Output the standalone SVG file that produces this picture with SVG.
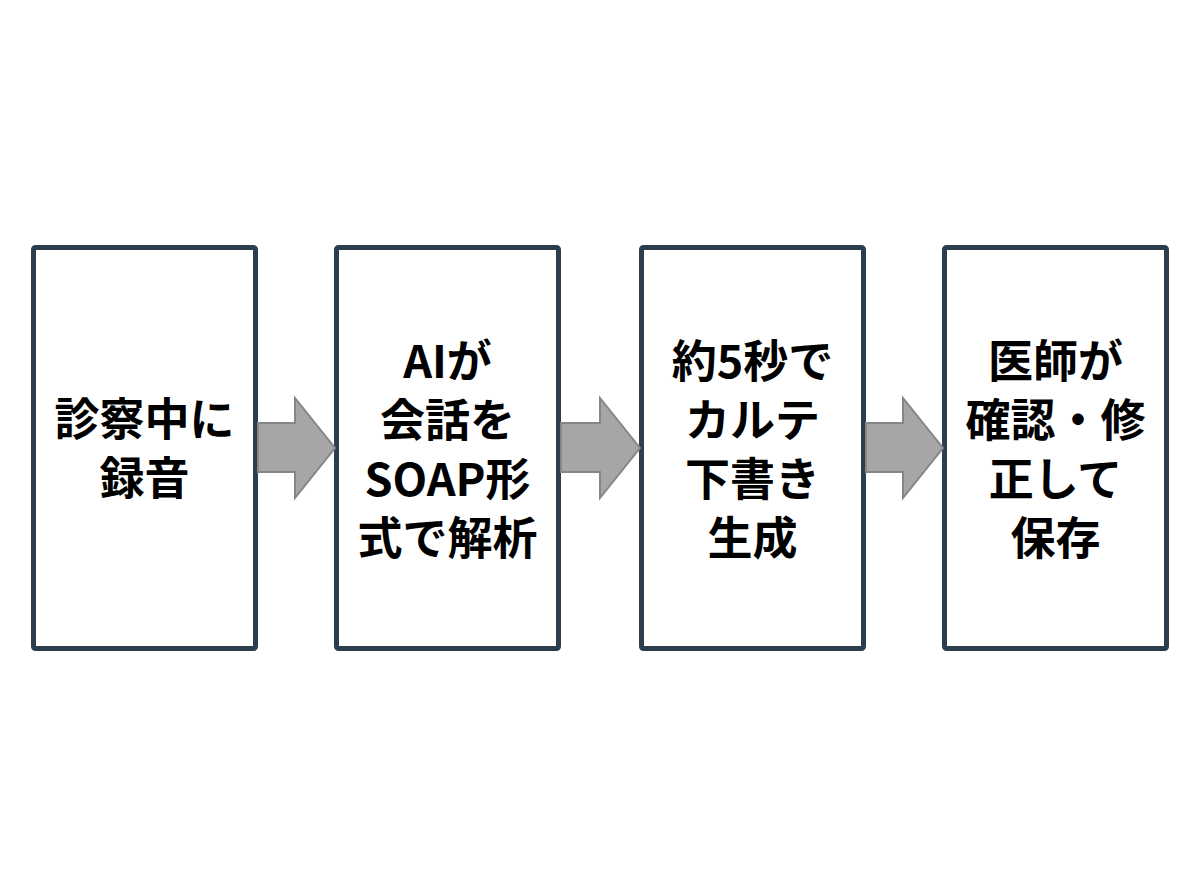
<svg xmlns="http://www.w3.org/2000/svg" width="1200" height="896" viewBox="0 0 1200 896">
<style>
.box{fill:#ffffff;stroke:#2c3e50;stroke-width:5;}
.arr{fill:#a6a6a6;stroke:#868686;stroke-width:2;stroke-linejoin:miter;}
.t{font-family:"Noto Sans CJK JP","Noto Sans",sans-serif;font-weight:bold;font-size:45px;fill:#000000;text-anchor:middle;}
</style>
<rect width="1200" height="896" fill="#ffffff"/>
<g id="n1">
<rect class="box" x="33.5" y="247.5" width="222" height="401" rx="2"/>
<text class="t" x="144.5" y="436">診察中に</text>
<text class="t" x="144.5" y="495">録音</text>
</g>
<g id="n2">
<rect class="box" x="336.5" y="247.5" width="222" height="401" rx="2"/>
<text class="t" x="447.5" y="378">AIが</text>
<text class="t" x="447.5" y="437">会話を</text>
<text class="t" x="447.5" y="496">SOAP形</text>
<text class="t" x="447.5" y="555">式で解析</text>
</g>
<g id="n3">
<rect class="box" x="641.5" y="247.5" width="222" height="401" rx="2"/>
<text class="t" x="752.5" y="378">約5秒で</text>
<text class="t" x="752.5" y="437">カルテ</text>
<text class="t" x="752.5" y="496">下書き</text>
<text class="t" x="752.5" y="555">生成</text>
</g>
<g id="n4">
<rect class="box" x="944.5" y="247.5" width="222" height="401" rx="2"/>
<text class="t" x="1055.5" y="378">医師が</text>
<text class="t" x="1055.5" y="437">確認・修</text>
<text class="t" x="1055.5" y="496">正して</text>
<text class="t" x="1055.5" y="555">保存</text>
</g>
<g id="connectors">
<polygon class="arr" points="258,423 295,423 295,398 335,448 295,498 295,472 258,472"/>
<polygon class="arr" points="561,423 600,423 600,398 640,448 600,498 600,472 561,472"/>
<polygon class="arr" points="866,423 903,423 903,398 943,448 903,498 903,472 866,472"/>
</g>
</svg>
